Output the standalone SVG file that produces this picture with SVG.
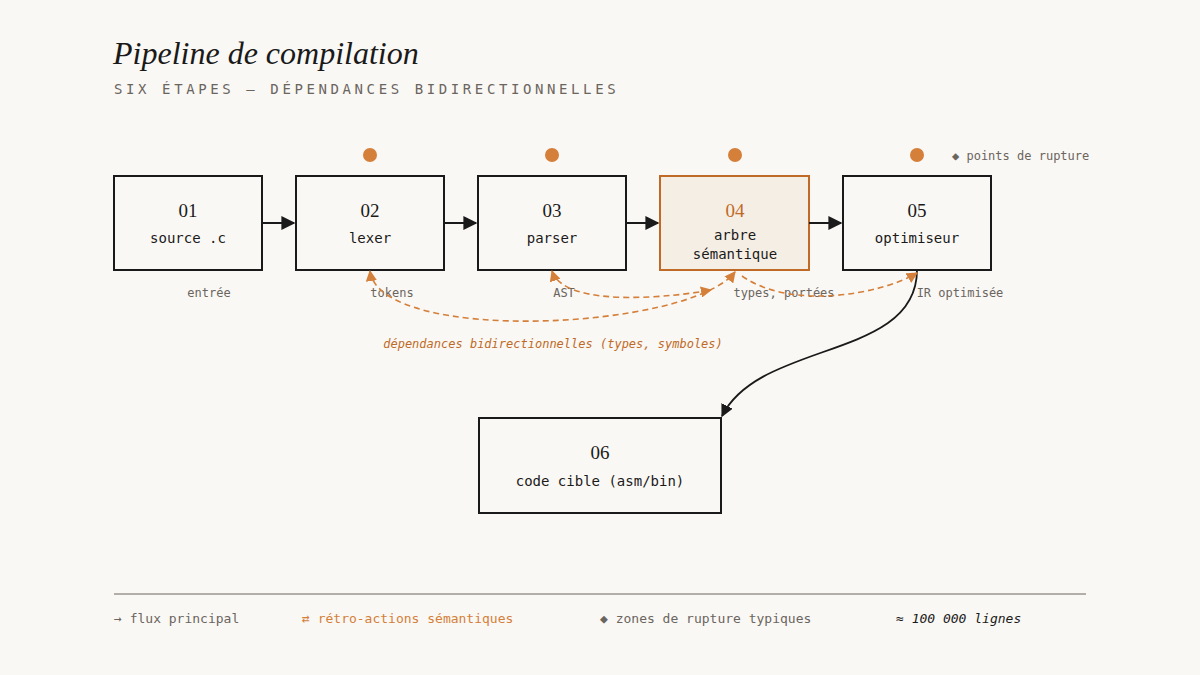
<svg xmlns="http://www.w3.org/2000/svg" width="1200" height="675" viewBox="0 0 1200 675">
<defs>
<style>
.box{fill:none;stroke:#1a1a1a;stroke-width:2}
.num{font-family:"Liberation Serif",serif;font-size:19px;text-anchor:middle;fill:#1a1a1a}
.lbl{font-family:"DejaVu Sans Mono",monospace;font-size:14px;text-anchor:middle;fill:#1a1a1a}
.sm{font-family:"DejaVu Sans Mono",monospace;font-size:12px;fill:#6b6560}
.dash{fill:none;stroke:#d47f3a;stroke-width:1.6;stroke-dasharray:6 4}
.dot{fill:#d47f3a}
</style>
<marker id="ah" viewBox="0 0 10 10" refX="9" refY="5" markerWidth="7" markerHeight="7" orient="auto-start-reverse"><path d="M0,0L10,5L0,10z" fill="#1a1a1a"/></marker>
<marker id="oa" viewBox="0 0 10 10" refX="9" refY="5" markerWidth="7" markerHeight="7" orient="auto-start-reverse"><path d="M0,0L10,5L0,10z" fill="#d47f3a"/></marker>
</defs>
<rect width="1200" height="675" fill="#faf8f4"/>
<text x="113" y="64" font-family="Liberation Serif,serif" font-style="italic" font-size="32" fill="#1a1a1a">Pipeline de compilation</text>
<text x="114" y="94" font-family="DejaVu Sans Mono,monospace" font-size="14" letter-spacing="3.6" fill="#6b6560">SIX ÉTAPES — DÉPENDANCES BIDIRECTIONNELLES</text>
<g class="dot"><circle cx="370" cy="155" r="7"/><circle cx="552" cy="155" r="7"/><circle cx="735" cy="155" r="7"/><circle cx="917" cy="155" r="7"/></g>
<text x="952" y="160" class="sm">◆ points de rupture</text>
<g id="n1"><rect class="box" x="114" y="176" width="148" height="94"/><text class="num" x="188" y="217">01</text><text class="lbl" x="188" y="243">source .c</text></g>
<g id="n2"><rect class="box" x="296" y="176" width="148" height="94"/><text class="num" x="370" y="217">02</text><text class="lbl" x="370" y="243">lexer</text></g>
<g id="n3"><rect class="box" x="478" y="176" width="148" height="94"/><text class="num" x="552" y="217">03</text><text class="lbl" x="552" y="243">parser</text></g>
<g id="n4"><rect x="660" y="176" width="149" height="94" fill="#f5eee4" stroke="#c06a28" stroke-width="2"/><text class="num" x="735" y="217" fill="#c06a28" style="fill:#c06a28">04</text><text class="lbl" x="735" y="240">arbre</text><text class="lbl" x="735" y="259">sémantique</text></g>
<g id="n5"><rect class="box" x="843" y="176" width="148" height="94"/><text class="num" x="917" y="217">05</text><text class="lbl" x="917" y="243">optimiseur</text></g>
<g id="n6"><rect class="box" x="479" y="418" width="242" height="95"/><text class="num" x="600" y="459">06</text><text class="lbl" x="600" y="486">code cible (asm/bin)</text></g>
<g id="labels" class="sm" text-anchor="middle">
<text x="209" y="297">entrée</text><text x="392" y="297">tokens</text><text x="564" y="297">AST</text><text x="784" y="297">types, portées</text><text x="960" y="297">IR optimisée</text>
</g>
<g id="connectors">
<path d="M262,223H294" stroke="#1a1a1a" stroke-width="2" marker-end="url(#ah)"/>
<path d="M444,223H476" stroke="#1a1a1a" stroke-width="2" marker-end="url(#ah)"/>
<path d="M626,223H658" stroke="#1a1a1a" stroke-width="2" marker-end="url(#ah)"/>
<path d="M809,223H841" stroke="#1a1a1a" stroke-width="2" marker-end="url(#ah)"/>
<path d="M917,270C917,360 760,340 722,416" fill="none" stroke="#1a1a1a" stroke-width="1.8" marker-end="url(#ah)"/>
<path class="dash" d="M370,271C380,345 690,330 735,272" marker-start="url(#oa)" marker-end="url(#oa)"/>
<path class="dash" d="M552,271C565,310 680,296 711,290" marker-start="url(#oa)" marker-end="url(#oa)"/>
<path class="dash" d="M742,276C790,310 880,295 917,273" marker-end="url(#oa)"/>
</g>
<text x="553" y="348" font-family="DejaVu Sans Mono,monospace" font-style="italic" font-size="12" fill="#c06a28" text-anchor="middle">dépendances bidirectionnelles (types, symboles)</text>
<line x1="114" y1="594" x2="1086" y2="594" stroke="#6b6560" stroke-width="1"/>
<g font-family="DejaVu Sans Mono,monospace" font-size="13">
<text x="114" y="623" fill="#6b6560">→ flux principal</text>
<text x="302" y="623" fill="#d47f3a">⇄ rétro-actions sémantiques</text>
<text x="600" y="623" fill="#6b6560">◆ zones de rupture typiques</text>
<text x="896" y="623" fill="#1a1a1a" font-style="italic">≈ 100 000 lignes</text>
</g>
</svg>
